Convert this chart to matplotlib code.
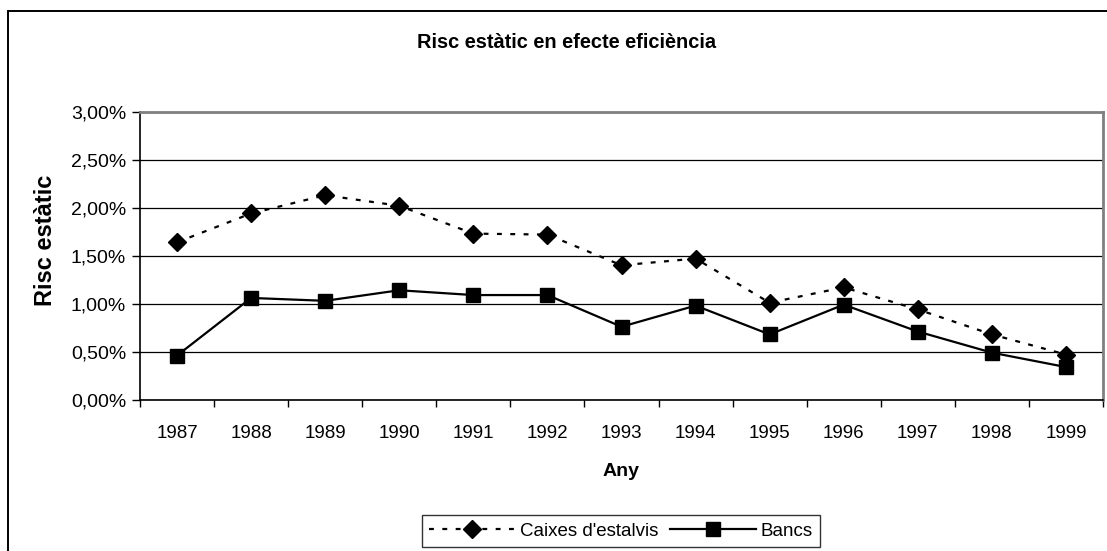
import matplotlib
matplotlib.use("Agg")
import matplotlib.pyplot as plt
from matplotlib.patches import Rectangle
from matplotlib.ticker import FuncFormatter, MultipleLocator, FixedLocator

plt.rcParams["font.family"] = ["Liberation Sans", "DejaVu Sans"]

# Static risk series (percent), 1987-1999
years = ["1987", "1988", "1989", "1990", "1991", "1992", "1993",
         "1994", "1995", "1996", "1997", "1998", "1999"]
caixes = [1.64, 1.94, 2.13, 2.02, 1.73, 1.72, 1.40,
          1.47, 1.01, 1.17, 0.94, 0.68, 0.47]
bancs = [0.46, 1.06, 1.03, 1.14, 1.09, 1.09, 0.76,
         0.98, 0.68, 0.99, 0.71, 0.49, 0.34]

W, H = 1107, 551
fig = plt.figure(figsize=(W / 100, H / 100), dpi=100)

# outer chart frame (runs off the right and bottom edges)
fig.add_artist(Rectangle((8 / W, -0.1), 1.2, 1.1 - 11 / H,
                         transform=fig.transFigure, fill=False,
                         edgecolor="black", linewidth=1.4))

left, right = 140 / W, 1103 / W
bottom, top = 1 - 399.7 / H, 1 - 111.7 / H
ax = fig.add_axes([left, bottom, right - left, top - bottom])

x = list(range(len(years)))
ax.plot(x, caixes, color="black", linewidth=1.6, linestyle=(0, (2.2, 3.8)),
        marker="D", markersize=9, label="Caixes d'estalvis", zorder=3)
ax.plot(x, bancs, color="black", linewidth=1.6, linestyle="-",
        marker="s", markersize=10, label="Bancs", zorder=3)

ax.set_xlim(-0.5, len(years) - 0.5)
ax.set_ylim(0, 3.0)
ax.yaxis.set_major_locator(MultipleLocator(0.5))
ax.yaxis.set_major_formatter(FuncFormatter(lambda v, p: f"{v:.2f}%".replace(".", ",")))
ax.grid(axis="y", color="black", linewidth=0.9)
ax.set_axisbelow(True)

ax.set_xticks(x)
ax.set_xticklabels(years)
ax.xaxis.set_minor_locator(FixedLocator([i - 0.5 for i in range(len(years) + 1)]))
ax.tick_params(axis="x", which="major", length=0, pad=18, labelsize=13.5)
ax.tick_params(axis="x", which="minor", length=5, width=1, direction="out")
ax.tick_params(axis="y", length=6, width=1, direction="out", labelsize=14, pad=4)

for s in ("top", "right"):
    ax.spines[s].set_color("#808080")
    ax.spines[s].set_linewidth(2)
for s in ("left", "bottom"):
    ax.spines[s].set_color("black")
    ax.spines[s].set_linewidth(1.2)

fig.text(567 / W, 1 - 43 / H, "Risc estàtic en efecte eficiència",
         ha="center", va="center", fontsize=14.4, fontweight="bold")
fig.text(621 / W, 1 - 471 / H, "Any", ha="center", va="center",
         fontsize=14, fontweight="bold")
fig.text(45 / W, 1 - 240 / H, "Risc estàtic", ha="center", va="center",
         rotation=90, fontsize=17, fontweight="bold")

leg = fig.legend(loc="center", bbox_to_anchor=(621 / W, 1 - 531 / H),
                 ncol=2, fontsize=13.5, frameon=True, fancybox=False,
                 handlelength=4.6, columnspacing=0.6, handletextpad=0.25,
                 borderpad=0.4, borderaxespad=0)
leg.get_frame().set_edgecolor("black")
leg.get_frame().set_linewidth(1.0)

fig.savefig("out.png", dpi=100)
